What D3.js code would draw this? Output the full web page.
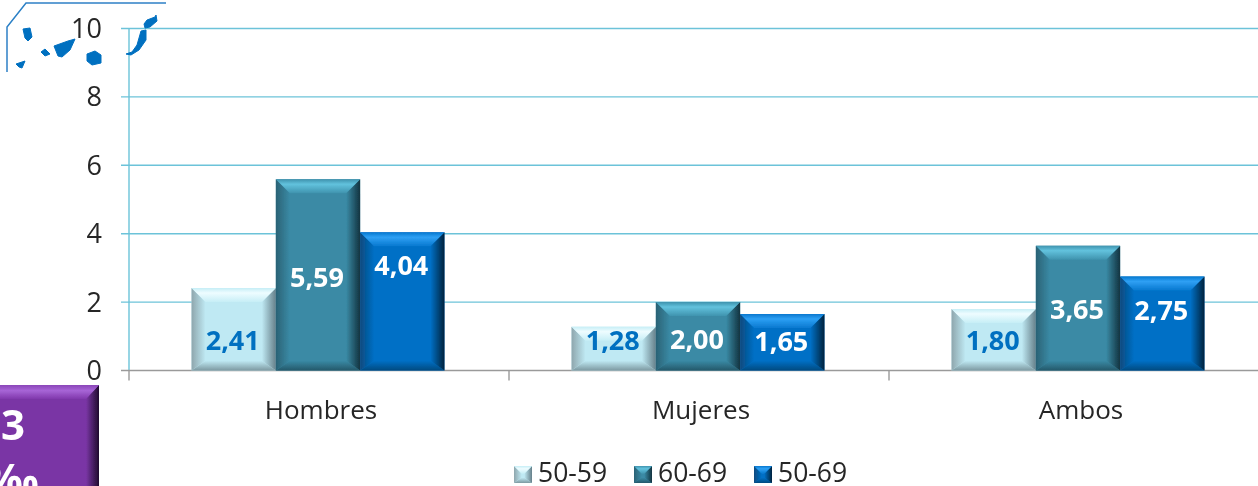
<!DOCTYPE html>
<html><head><meta charset="utf-8">
<script src="https://cdn.jsdelivr.net/npm/d3@7"></script>
<style>html,body{margin:0;padding:0;background:#fff;overflow:hidden}svg{display:block}text{font-family:"Open Sans","Noto Sans",sans-serif}</style>
</head><body><svg id="c" width="1258" height="486"></svg>
<script>
const categories = ["Hombres","Mujeres","Ambos"];
const seriesNames = ["50-59","60-69","50-69"];
const values5059 = [2.41,1.28,1.80];
const values6069 = [5.59,2.00,3.65];
const values5069 = [4.04,1.65,2.75];
const labels5059 = ["2,41","1,28","1,80"];
const labels6069 = ["5,59","2,00","3,65"];
const labels5069 = ["4,04","1,65","2,75"];
const labelLevel5059 = [0.89,0.89,0.89];
const labelLevel6069 = [2.73,0.92,1.77];
const labelLevel5069 = [3.08,0.86,1.74];
const yTicks = [0,2,4,6,8,10];

const W=1258,H=486, x0=129, yBase=370.5, yTop=28.5, band=380, barW=84.3;
const svg=d3.select("#c");
const defs=svg.append("defs");
defs.append("filter").attr("id","soft").attr("x","-5%").attr("y","-5%").attr("width","110%").attr("height","110%")
  .append("feGaussianBlur").attr("stdDeviation",0.5);
const root=svg.append("g").attr("filter","url(#soft)");

const x=d3.scaleBand().domain(categories).range([x0,x0+band*3]);
const y=d3.scaleLinear().domain([0,10]).range([yBase,yTop]);
const xs=d3.scaleBand().domain(seriesNames).range([-barW*1.5,barW*1.5]);

const pal=[
 {face:"#bfe9f3",top:["#eefcff","#c6eef6"],left:"#8ea6ad",right:"#66808a",bottom:"#7d99a1",text:"#0070c0"},
 {face:"#3a8aa5",top:["#62c2dd","#3f93ae"],left:"#2a6275",right:"#12333f",bottom:"#24586a",text:"#ffffff"},
 {face:"#0070c6",top:["#2ea0f4","#0878cf"],left:"#0a4a7e",right:"#04233d",bottom:"#064a80",text:"#ffffff"}
];
function grad(id,dir,stops){
  const g=defs.append("linearGradient").attr("id",id)
    .attr("x1",dir==="l"?1:0).attr("y1",dir==="u"?1:0)
    .attr("x2",dir==="r"?1:0).attr("y2",dir==="d"?1:0);
  stops.forEach(s=>g.append("stop").attr("offset",s[0]).attr("stop-color",s[1]));
}
pal.forEach((p,i)=>{
  grad("t"+i,"d",[[0,p.top[1]],[.35,p.top[0]],[1,p.top[1]]]);
  grad("l"+i,"l",[[0,p.face],[1,p.left]]);
  grad("r"+i,"r",[[0,p.face],[1,p.right]]);
  grad("b"+i,"d",[[0,p.face],[1,p.bottom]]);
});

const gridColor="#6cc3d9";
root.append("g").selectAll("line").data(yTicks.filter(d=>d>0)).join("line")
  .attr("x1",x0-8).attr("x2",W).attr("y1",d=>y(d)).attr("y2",d=>y(d))
  .attr("stroke",gridColor).attr("stroke-width",1.4);
root.append("line").attr("x1",x0).attr("x2",x0).attr("y1",yTop).attr("y2",yBase).attr("stroke",gridColor).attr("stroke-width",1.4);
root.append("line").attr("x1",x0-8).attr("x2",W).attr("y1",yBase).attr("y2",yBase).attr("stroke","#9a9a9a").attr("stroke-width",1.4);
root.append("g").selectAll("line").data([0,1,2]).join("line")
  .attr("x1",d=>x0+d*band).attr("x2",d=>x0+d*band).attr("y1",yBase).attr("y2",yBase+10)
  .attr("stroke","#9a9a9a").attr("stroke-width",1.4);

root.append("g").selectAll("text").data(yTicks).join("text")
  .attr("x",102).attr("y",d=>y(d)+9.5).attr("text-anchor","end")
  .attr("font-size",27).attr("fill","#262626").text(d=>d);
root.append("g").selectAll("text").data(categories).join("text")
  .attr("x",d=>x(d)+x.bandwidth()/2+2).attr("y",419).attr("text-anchor","middle")
  .attr("font-size",26).attr("fill","#262626").text(d=>d);

function bevel(g,xa,xb,ya,yb,bv,p,i){
  const b=Math.min(bv,(yb-ya)/2.2);
  const poly=(pts,fill)=>g.append("polygon").attr("points",pts.map(q=>q.join(",")).join(" ")).attr("fill",fill);
  poly([[xa,ya],[xb,ya],[xb,yb],[xa,yb]],p.face);
  poly([[xa,yb],[xb,yb],[xb-b,yb-b*.7],[xa+b,yb-b*.7]],`url(#b${i})`);
  poly([[xa,ya],[xa+b,ya+b],[xa+b,yb-b*.7],[xa,yb]],`url(#l${i})`);
  poly([[xb,ya],[xb-b,ya+b],[xb-b,yb-b*.7],[xb,yb]],`url(#r${i})`);
  poly([[xa,ya],[xb,ya],[xb-b,ya+b],[xa+b,ya+b]],`url(#t${i})`);
}

const series=[
 {name:seriesNames[0],vals:values5059,labs:labels5059,lev:labelLevel5059},
 {name:seriesNames[1],vals:values6069,labs:labels6069,lev:labelLevel6069},
 {name:seriesNames[2],vals:values5069,labs:labels5069,lev:labelLevel5069}
];
const barsG=root.append("g"), labG=root.append("g");
series.forEach((s,si)=>{
  categories.forEach((c,ci)=>{
    const cx=x(c)+x.bandwidth()/2;
    const xa=cx+xs(s.name)-1, xb=xa+xs.bandwidth();
    bevel(barsG.append("g"),xa,xb,y(s.vals[ci]),yBase,14,pal[si],si);
    labG.append("text").attr("x",(xa+xb)/2-1).attr("y",y(s.lev[ci])+9.5)
      .attr("text-anchor","middle").attr("font-size",27).attr("font-weight",700)
      .attr("fill",pal[si].text).text(s.labs[ci]);
  });
});

const legX=[514,634,754];
const lg=root.append("g");
seriesNames.forEach((n,i)=>{
  bevel(lg.append("g"),legX[i],legX[i]+18,466,483,8,pal[i],i);
  lg.append("text").attr("x",legX[i]+24).attr("y",482).attr("font-size",26.5).attr("fill","#262626").text(n);
});

const blue="#0070c0";
root.append("path").attr("d","M7,72 V27 L26,3 H166").attr("fill","none").attr("stroke","#2b80c6").attr("stroke-width",1.5);
const islands=[
 [[23,29],[30,28],[32,37],[28,41],[25,38]],
 [[16,64],[25,61],[22,68],[19,67]],
 [[41,52],[45,49],[50,54],[45,56]],
 [[54,46],[68,41],[75,39],[70,50],[62,57],[58,56]],
 [[87,54],[95,51],[101,55],[101,63],[92,65],[87,61]],
 [[126,54],[132,52],[137,45],[141,31],[146,30],[146,40],[139,50],[131,55]],
 [[144,24],[147,20],[155,17],[156,15],[157,21],[150,27],[145,28]]
];
root.append("g").selectAll("polygon").data(islands).join("polygon")
  .attr("points",d=>d.map(q=>q.join(",")).join(" ")).attr("fill",blue).attr("stroke",blue).attr("stroke-width",1).attr("stroke-linejoin","round");

const pg=defs.append("linearGradient").attr("id","t9").attr("x1",0).attr("y1",0).attr("x2",0).attr("y2",1);
pg.append("stop").attr("offset",0).attr("stop-color","#8a45b8");
pg.append("stop").attr("offset",.4).attr("stop-color","#a765d6");
pg.append("stop").attr("offset",1).attr("stop-color","#8038ac");
const box=root.append("g");
box.append("rect").attr("x",-2).attr("y",385).attr("width",101).attr("height",103).attr("fill","#7a35a5");
const rg=defs.append("linearGradient").attr("id","rp").attr("x1",0).attr("y1",0).attr("x2",1).attr("y2",0);
rg.append("stop").attr("offset",0).attr("stop-color","#7a35a5");
rg.append("stop").attr("offset",1).attr("stop-color","#1f0b2e");
box.append("polygon").attr("points","99,385 99,488 86,488 86,399").attr("fill","url(#rp)");
box.append("polygon").attr("points","-2,385 99,385 86,399 -2,399").attr("fill","url(#t9)");
box.append("text").attr("x",13).attr("y",440).attr("text-anchor","middle").attr("font-size",42).attr("font-weight",700).attr("fill","#fff").text("3");
box.append("text").attr("x",12).attr("y",494).attr("text-anchor","middle").attr("font-size",42).attr("font-weight",700).attr("fill","#fff").text("‰");
</script></body></html>
